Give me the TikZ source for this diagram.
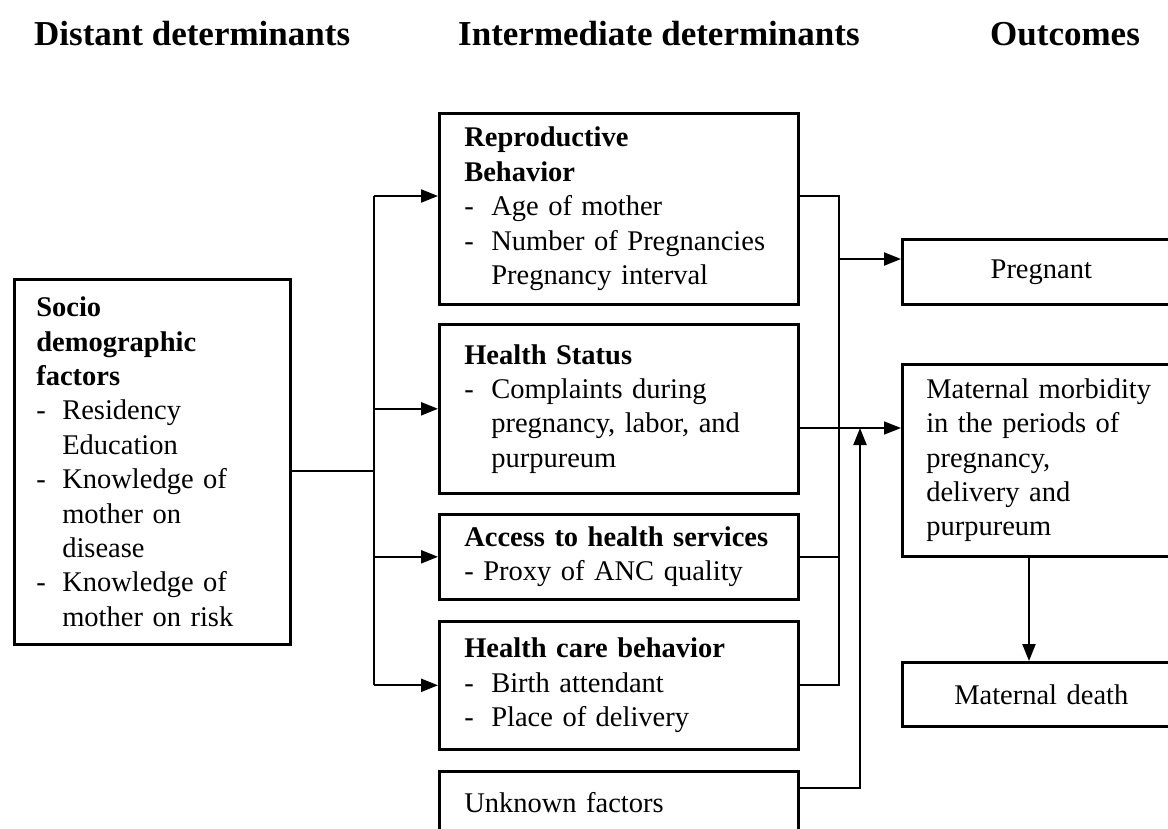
\documentclass[tikz,border=0pt]{standalone}
\usepackage{fontspec}
\setmainfont{Liberation Serif}
\usetikzlibrary{arrows.meta}
\newcommand\itemdash{\makebox[27pt][l]{-}}
\newcommand\itemind{\hspace*{27pt}}
\newcommand\leftdash{\makebox[26pt][l]{-}}
\newcommand\leftind{\hspace*{26pt}}
\begin{document}
\begin{tikzpicture}[x=1pt,y=-1pt,
  boxbase/.style={draw, line width=2.6pt, anchor=north west, inner ysep=0pt,
    inner xsep=25pt, align=left, font=\fontsize{28.5}{34.4}\selectfont,
    execute at begin node={\hyphenpenalty=10000\exhyphenpenalty=10000}},
  header/.style={anchor=base west, inner sep=0pt, font=\bfseries\fontsize{35}{40}\selectfont},
  conn/.style={line width=2.2pt},
  arr/.style={line width=2.2pt, -{Triangle[length=17pt,width=13pt]}},
  thinarr/.style={line width=1.5pt, -{Triangle[length=17pt,width=13pt]}}]
\useasboundingbox (0,0) rectangle (1168,828);
\clip (0,0) rectangle (1168,828);
\fill[white] (0,0) rectangle (1168,828);

% headers
\node[header] (h1) at (34,45) {Distant determinants};
\node[header] (h2) at (458,45) {Intermediate determinants};
\node[header] (h3) at (990,45) {Outcomes};

% distant box
\node[boxbase, inner xsep=22pt, minimum width=276pt, minimum height=365pt, text width=232pt] (soc) at (13,278)
  {\textbf{Socio}\\ \textbf{demographic}\\ \textbf{factors}\\ \leftdash Residency\\ \leftind Education\\
   \leftdash Knowledge of\\ \leftind mother on\\ \leftind disease\\ \leftdash Knowledge of\\ \leftind mother on risk};

% intermediate boxes
\node[boxbase, minimum width=359pt, minimum height=191pt, text width=309pt] (rep) at (438,112)
  {\textbf{Reproductive}\\ \textbf{Behavior}\\ \itemdash Age of mother\\ \itemdash Number of Pregnancies\\ \itemind Pregnancy interval};
\node[boxbase, minimum width=359pt, minimum height=169pt, text width=309pt] (hs) at (438,323)
  {\textbf{Health Status}\\ \itemdash Complaints during\\ \itemind pregnancy, labor, and\\ \itemind purpureum};
\node[boxbase, minimum width=359pt, minimum height=85pt, text width=309pt] (acc) at (438,513)
  {\mbox{\textbf{Access to health services}}\\ - Proxy of ANC quality};
\node[boxbase, minimum width=359pt, minimum height=128pt, text width=309pt] (hcb) at (438,620)
  {\textbf{Health care behavior}\\ \itemdash Birth attendant\\ \itemdash Place of delivery};
\node[boxbase, minimum width=359pt, minimum height=62pt, text width=309pt] (unk) at (438,770)
  {Unknown factors};

% outcome boxes
\node[boxbase, align=center, minimum width=278pt, minimum height=65pt, text width=228pt] (preg) at (901,238)
  {Pregnant};
\node[boxbase, inner xsep=24pt, minimum width=278pt, minimum height=192pt, text width=240pt] (morb) at (901,363)
  {Maternal morbidity\\ in the periods of\\ pregnancy,\\ delivery and\\ purpureum};
\node[boxbase, align=center, minimum width=278pt, minimum height=64pt, text width=228pt] (death) at (901,661)
  {Maternal death};

% helper coordinates
\coordinate (busx) at (374,0);
\coordinate (rbus) at (839,0);
\coordinate (ux) at (860,0);
\coordinate (dx) at (1029,0);
\coordinate (ys) at (0,471);
\coordinate (y1) at (0,196);
\coordinate (yp) at (0,259);
\coordinate (ym) at (0,428);
\coordinate (yu) at (0,788);

% left connectors
\draw[conn] (soc.east |- ys) -- (busx |- ys);
\draw[conn] (busx |- y1) -- (busx |- hcb.west);
\draw[arr] (busx |- y1) -- (rep.west |- y1);
\draw[arr] (busx |- hs.west) -- (hs.west);
\draw[arr] (busx |- acc.west) -- (acc.west);
\draw[arr] (busx |- hcb.west) -- (hcb.west);

% right connectors
\draw[conn] (rep.east |- y1) -- (rbus |- y1) -- (rbus |- hcb.east) -- (hcb.east);
\draw[conn] (acc.east) -- (rbus |- acc.east);
\draw[arr] (rbus |- yp) -- (preg.west |- yp);
\draw[thinarr] (hs.east |- ym) -- (morb.west |- ym);
\draw[arr] (unk.east |- yu) -- (ux |- yu) -- (ux |- ym);
\draw[arr] (dx |- morb.south) -- (dx |- death.north);
\end{tikzpicture}
\end{document}
